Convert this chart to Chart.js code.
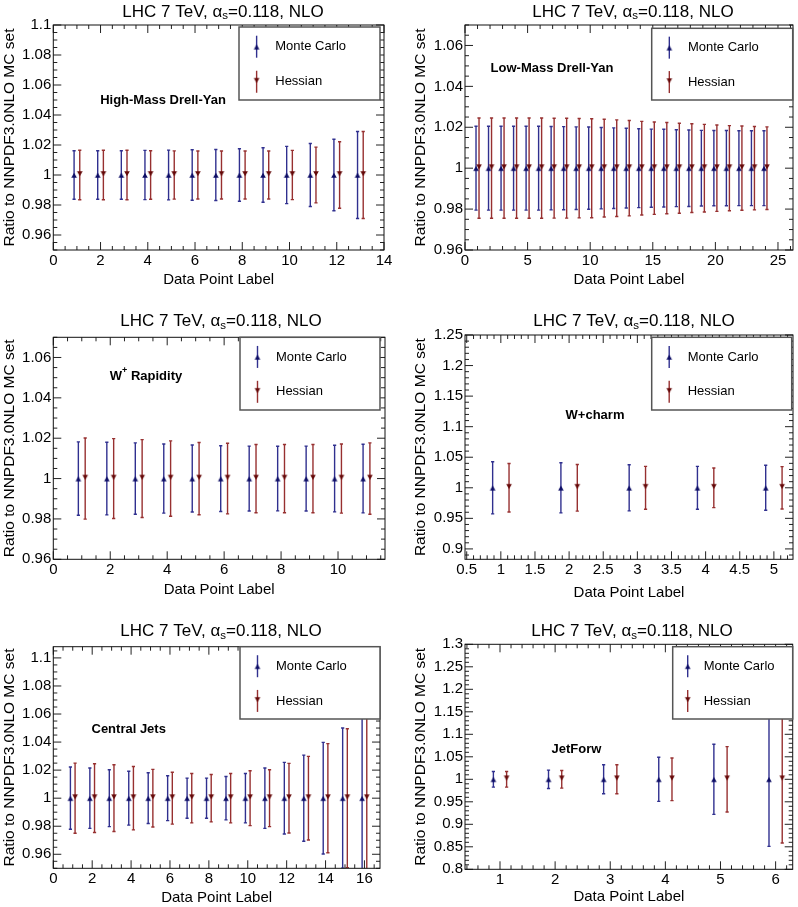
<!DOCTYPE html>
<html>
<head>
<meta charset="utf-8">
<script src="https://cdn.jsdelivr.net/npm/chart.js@4.4.0/dist/chart.umd.min.js"></script>
<style>
  body { margin: 0; background: #fff; width: 798px; height: 907px; position: relative; overflow: hidden; }
  canvas { position: absolute; }
</style>
</head>
<body>
<script>
const FONT = '"Liberation Sans", Arial, Helvetica, sans-serif';

// ---- data ----
const seriesNames = ['Monte Carlo', 'Hessian'];
const xTitle = 'Data Point Label';
const yTitle = 'Ratio to NNPDF3.0NLO MC set';

// High-Mass Drell-Yan
const hmPoints = [1, 2, 3, 4, 5, 6, 7, 8, 9, 10, 11, 12, 13];
const hmMc = [1, 1, 1, 1, 1, 1, 1, 1, 1, 1, 1, 1, 1];
const hmMcErr = [0.0162, 0.0162, 0.0162, 0.0164, 0.0166, 0.0168, 0.017, 0.0175, 0.0182, 0.0191, 0.021, 0.0238, 0.029];
const hmHess = [1, 1, 1, 1, 1, 1, 1, 1, 1, 1, 1, 1, 1];
const hmHessErr = [0.0165, 0.0165, 0.0165, 0.0162, 0.0161, 0.016, 0.016, 0.016, 0.016, 0.0164, 0.0186, 0.0222, 0.029];
const hmXTicks = [0, 2, 4, 6, 8, 10, 12, 14];
const hmYTicks = [0.96, 0.98, 1, 1.02, 1.04, 1.06, 1.08, 1.1];

// Low-Mass Drell-Yan
const lmPoints = [1, 2, 3, 4, 5, 6, 7, 8, 9, 10, 11, 12, 13, 14, 15, 16, 17, 18, 19, 20, 21, 22, 23, 24];
const lmMc = [1, 1, 1, 1, 1, 1, 1, 1, 1, 1, 1, 1, 1, 1, 1, 1, 1, 1, 1, 1, 1, 1, 1, 1];
const lmMcErr = [0.0205, 0.0205, 0.0205, 0.0205, 0.0205, 0.0205, 0.0204, 0.0203, 0.0202, 0.0201, 0.0199, 0.0197,
                 0.0195, 0.0193, 0.0191, 0.019, 0.0188, 0.0187, 0.0185, 0.0184, 0.0184, 0.0183, 0.0183, 0.0183];
const lmHess = [1, 1, 1, 1, 1, 1, 1, 1, 1, 1, 1, 1, 1, 1, 1, 1, 1, 1, 1, 1, 1, 1, 1, 1];
const lmHessErr = [0.0245, 0.0245, 0.0245, 0.0245, 0.0245, 0.0245, 0.0244, 0.0244, 0.0243, 0.0242, 0.0239, 0.0236,
                   0.0233, 0.0229, 0.0226, 0.0223, 0.022, 0.0217, 0.0214, 0.0211, 0.0208, 0.0206, 0.0204, 0.0202];
const lmXTicks = [0, 5, 10, 15, 20, 25];
const lmYTicks = [0.96, 0.98, 1, 1.02, 1.04, 1.06];

// W+ rapidity
const wpPoints = [1, 2, 3, 4, 5, 6, 7, 8, 9, 10, 11];
const wpMc = [1, 1, 1, 1, 1, 1, 1, 1, 1, 1, 1];
const wpMcErr = [0.0182, 0.018, 0.0177, 0.0171, 0.0166, 0.0163, 0.0161, 0.016, 0.0161, 0.0165, 0.017];
const wpHess = [1, 1, 1, 1, 1, 1, 1, 1, 1, 1, 1];
const wpHessErr = [0.0201, 0.0198, 0.0193, 0.0187, 0.0179, 0.0175, 0.0169, 0.0169, 0.0169, 0.0171, 0.0177];
const wpXTicks = [0, 2, 4, 6, 8, 10];
const wpYTicks = [0.96, 0.98, 1, 1.02, 1.04, 1.06];

// W+charm
const wcPoints = [1, 2, 3, 4, 5];
const wcMc = [1, 1, 1, 1, 1];
const wcMcErr = [0.0427, 0.041, 0.0378, 0.0351, 0.0368];
const wcHess = [1, 1, 1, 1, 1];
const wcHessErr = [0.0397, 0.0381, 0.0351, 0.0324, 0.0346];
const wcXTicks = [0.5, 1, 1.5, 2, 2.5, 3, 3.5, 4, 4.5, 5];
const wcYTicks = [0.9, 0.95, 1, 1.05, 1.1, 1.15, 1.2, 1.25];

// Central jets
const cjPoints = [1, 2, 3, 4, 5, 6, 7, 8, 9, 10, 11, 12, 13, 14, 15, 16];
const cjMc = [1, 1, 1, 1, 1, 1, 1, 1, 1, 1, 1, 1, 1, 1, 1, 1];
const cjMcErr = [0.0222, 0.0215, 0.0203, 0.0192, 0.0181, 0.016, 0.0143, 0.0143, 0.0155, 0.0176, 0.0215, 0.0255,
                 0.0307, 0.0398, 0.05, 0.065];
const cjHess = [1, 1, 1, 1, 1, 1, 1, 1, 1, 1, 1, 1, 1, 1, 1, 1];
const cjHessErr = [0.025, 0.0245, 0.0238, 0.0226, 0.0205, 0.0185, 0.0176, 0.0169, 0.0176, 0.0196, 0.0203, 0.0248,
                   0.0298, 0.0389, 0.0495, 0.063];
const cjXTicks = [0, 2, 4, 6, 8, 10, 12, 14, 16];
const cjYTicks = [0.96, 0.98, 1, 1.02, 1.04, 1.06, 1.08, 1.1];

// Forward jets
const jfPoints = [1, 2, 3, 4, 5, 6];
const jfMc = [1, 1, 1, 1, 1, 1];
const jfMcErr = [0.0174, 0.0204, 0.0322, 0.049, 0.078, 0.149];
const jfHess = [1, 1, 1, 1, 1, 1];
const jfHessErr = [0.0174, 0.0196, 0.0322, 0.0474, 0.0726, 0.1415];
const jfXTicks = [1, 2, 3, 4, 5, 6];
const jfYTicks = [0.8, 0.85, 0.9, 0.95, 1, 1.05, 1.1, 1.15, 1.2, 1.25, 1.3];

// ---- layout (page pixels) ----
const panels = [
  { id: 'c1', label: 'High-Mass Drell-Yan', pts: hmPoints, mc: hmMc, mcErr: hmMcErr, hs: hmHess, hsErr: hmHessErr,
    xTicks: hmXTicks, yTicks: hmYTicks, xr: [0, 14], yr: [0.95, 1.1], xMinor: 0.5, yMinor: 0.005,
    box: [0, 0, 400, 300], area: [53.3, 25, 384, 250], title: [223, 12], xTitleY: 280, yTitleX: 8.5,
    labelXY: [163, 100], legend: [239, 27, 380, 100] },
  { id: 'c2', label: 'Low-Mass Drell-Yan', pts: lmPoints, mc: lmMc, mcErr: lmMcErr, hs: lmHess, hsErr: lmHessErr,
    xTicks: lmXTicks, yTicks: lmYTicks, xr: [0, 26.2], yr: [0.96, 1.07], xMinor: 1, yMinor: 0.005,
    box: [400, 0, 398, 300], area: [465, 25, 796.7, 250], title: [633, 12], xTitleY: 280, yTitleX: 420,
    labelXY: [552, 68], legend: [651.7, 28.3, 792.7, 100] },
  { id: 'c3', label: 'W|+| Rapidity', pts: wpPoints, mc: wpMc, mcErr: wpMcErr, hs: wpHess, hsErr: wpHessErr,
    xTicks: wpXTicks, yTicks: wpYTicks, xr: [0, 11.65], yr: [0.96, 1.07], xMinor: 0.5, yMinor: 0.005,
    box: [0, 300, 400, 300], area: [53.3, 337.3, 385, 559.3], title: [221, 321.7], xTitleY: 590, yTitleX: 8.5,
    labelXY: [146, 376], legend: [240, 337.3, 380, 410] },
  { id: 'c4', label: 'W+charm', pts: wcPoints, mc: wcMc, mcErr: wcMcErr, hs: wcHess, hsErr: wcHessErr,
    xTicks: wcXTicks, yTicks: wcYTicks, xr: [0.475, 5.28], yr: [0.883, 1.25], xMinor: 0.1, yMinor: 0.01,
    box: [400, 300, 398, 300], area: [465, 335, 795, 559.3], title: [634, 321.7], xTitleY: 593, yTitleX: 420,
    labelXY: [595, 415.7], legend: [651.7, 337.3, 791.7, 410] },
  { id: 'c5', label: 'Central Jets', pts: cjPoints, mc: cjMc, mcErr: cjMcErr, hs: cjHess, hsErr: cjHessErr,
    xTicks: cjXTicks, yTicks: cjYTicks, xr: [0, 16.8], yr: [0.95, 1.108], xMinor: 0.5, yMinor: 0.005,
    box: [0, 600, 400, 307], area: [53.3, 646.7, 380, 868.3], title: [221, 631.7], xTitleY: 898, yTitleX: 8.5,
    labelXY: [128.7, 729], legend: [240, 646.7, 380, 719] },
  { id: 'c6', label: 'JetForw', pts: jfPoints, mc: jfMc, mcErr: jfMcErr, hs: jfHess, hsErr: jfHessErr,
    xTicks: jfXTicks, yTicks: jfYTicks, xr: [0.365, 6.31], yr: [0.8, 1.3], xMinor: 0.2, yMinor: 0.01,
    box: [400, 600, 398, 307], area: [465, 644.3, 792.7, 869.3], title: [632, 631.7], xTitleY: 896.7, yTitleX: 420,
    labelXY: [576.5, 749], legend: [672.7, 646.7, 792.7, 719] }
];

const MC_MARK = '#0c0c64', MC_BAR = '#30308f';
const HS_MARK = '#640808', HS_BAR = '#973030';
const X_SHIFT = 0.12;

// triangle markers, offset a little like the ROOT ones
function makeMarker(color, up) {
  const c = document.createElement('canvas');
  c.width = 10; c.height = 10;
  const g = c.getContext('2d');
  g.fillStyle = color;
  g.beginPath();
  if (up) { g.moveTo(5, 2.8); g.lineTo(7.8, 7.8); g.lineTo(2.2, 7.8); }
  else { g.moveTo(2.2, 1.2); g.lineTo(7.8, 1.2); g.lineTo(5, 6.2); }
  g.closePath();
  g.fill();
  return c;
}
const mcMarker = makeMarker(MC_MARK, true);
const hsMarker = makeMarker(HS_MARK, false);

const styles = {};

function textRuns(ctx, runs, cx, cy) {
  // runs: [text, font, dy]
  let total = 0;
  runs.forEach(r => { ctx.font = r[1]; total += ctx.measureText(r[0]).width; });
  let x = cx - total / 2;
  ctx.textAlign = 'left';
  ctx.textBaseline = 'middle';
  runs.forEach(r => {
    ctx.font = r[1];
    ctx.fillText(r[0], x, cy + r[2]);
    x += ctx.measureText(r[0]).width;
  });
}

function minorValues(min, max, step) {
  const out = [];
  for (let k = Math.ceil(min / step - 1e-6); k * step <= max + 1e-9; k++) out.push(k * step);
  return out;
}

const rootPlot = {
  id: 'rootPlot',
  beforeDatasetsDraw(chart) {
    const ctx = chart.ctx, a = chart.chartArea, ys = chart.scales.y;
    ctx.save();
    ctx.beginPath();
    ctx.rect(a.left, a.top, a.right - a.left, a.bottom - a.top);
    ctx.clip();
    chart.data.datasets.forEach((ds, i) => {
      const meta = chart.getDatasetMeta(i);
      ctx.strokeStyle = ds.barColor;
      ctx.lineWidth = 1.4;
      meta.data.forEach((pt, j) => {
        const v = ds.data[j].y, e = ds.errors[j];
        const t = ys.getPixelForValue(v + e), b = ys.getPixelForValue(v - e);
        ctx.beginPath();
        ctx.moveTo(pt.x, t); ctx.lineTo(pt.x, b);
        ctx.moveTo(pt.x - 1.6, t); ctx.lineTo(pt.x + 1.6, t);
        ctx.moveTo(pt.x - 1.6, b); ctx.lineTo(pt.x + 1.6, b);
        ctx.stroke();
      });
    });
    ctx.restore();
  },
  afterDraw(chart) {
    const st = styles[chart.canvas.id];
    const ctx = chart.ctx, a = chart.chartArea;
    const xs = chart.scales.x, ys = chart.scales.y;
    const ox = st.box[0], oy = st.box[1];
    ctx.save();

    // ticks on all four sides
    ctx.strokeStyle = '#222';
    ctx.lineWidth = 1;
    ctx.beginPath();
    const xMaj = st.xTicks, yMaj = st.yTicks;
    const isMaj = (arr, v) => arr.some(m => Math.abs(m - v) < 1e-6);
    minorValues(st.xr[0], st.xr[1], st.xMinor).forEach(v => {
      const len = isMaj(xMaj, v) ? 8 : 4, px = xs.getPixelForValue(v);
      ctx.moveTo(px, a.bottom); ctx.lineTo(px, a.bottom - len);
      ctx.moveTo(px, a.top); ctx.lineTo(px, a.top + len);
    });
    minorValues(st.yr[0], st.yr[1], st.yMinor).forEach(v => {
      const len = isMaj(yMaj, v) ? 8 : 4, py = ys.getPixelForValue(v);
      ctx.moveTo(a.left, py); ctx.lineTo(a.left + len, py);
      ctx.moveTo(a.right, py); ctx.lineTo(a.right - len, py);
    });
    ctx.stroke();
    ctx.strokeStyle = '#111';
    ctx.strokeRect(a.left, a.top, a.right - a.left, a.bottom - a.top);

    // title
    ctx.fillStyle = '#000';
    textRuns(ctx, [['LHC 7 TeV, \u03b1', '17px ' + FONT, 0], ['s', '11.5px ' + FONT, 4],
                   ['=0.118, NLO', '17px ' + FONT, 0]], st.title[0] - ox, st.title[1] - oy);

    // process label
    const parts = st.label.split('|');
    const runs = parts.length === 3
      ? [[parts[0], 'bold 13px ' + FONT, 0], [parts[1], 'bold 9px ' + FONT, -5], [parts[2], 'bold 13px ' + FONT, 0]]
      : [[st.label, 'bold 13px ' + FONT, 0]];
    textRuns(ctx, runs, st.labelXY[0] - ox, st.labelXY[1] - oy);

    // legend box
    const L = st.legend[0] - ox, T = st.legend[1] - oy, R = st.legend[2] - ox, B = st.legend[3] - oy;
    const w = R - L, h = B - T;
    ctx.fillStyle = '#fff';
    ctx.fillRect(L, T, w, h);
    ctx.strokeStyle = '#555';
    ctx.lineWidth = 1.5;
    ctx.strokeRect(L, T, w, h);
    const rows = [T + h * 0.27, T + h * 0.75];
    chart.data.datasets.forEach((ds, i) => {
      const mx = L + w * 0.125, my = rows[i];
      ctx.strokeStyle = ds.barColor;
      ctx.lineWidth = 1.4;
      ctx.beginPath();
      ctx.moveTo(mx, my - 11); ctx.lineTo(mx, my + 11);
      ctx.stroke();
      ctx.drawImage(ds.pointStyle, mx - 5, my - 5);
      ctx.fillStyle = '#000';
      ctx.font = '13px ' + FONT;
      ctx.textAlign = 'left';
      ctx.textBaseline = 'middle';
      ctx.fillText(ds.label, L + w * 0.25 + 1, my);
    });
    ctx.restore();
  }
};

panels.forEach(p => {
  styles[p.id] = p;
  const [ox, oy, W, H] = p.box;
  const cv = document.createElement('canvas');
  cv.id = p.id;
  cv.width = W; cv.height = H;
  cv.style.left = ox + 'px';
  cv.style.top = oy + 'px';
  document.body.appendChild(cv);

  const [l, t, r, b] = p.area;
  const xScaleH = p.xTitleY + 9 - b;

  new Chart(cv.getContext('2d'), {
    type: 'scatter',
    data: {
      datasets: [
        { label: seriesNames[0], data: p.pts.map((x, i) => ({ x: x - X_SHIFT, y: p.mc[i] })), errors: p.mcErr,
          barColor: MC_BAR, pointStyle: mcMarker, pointRadius: 3 },
        { label: seriesNames[1], data: p.pts.map((x, i) => ({ x: x + X_SHIFT, y: p.hs[i] })), errors: p.hsErr,
          barColor: HS_BAR, pointStyle: hsMarker, pointRadius: 3 }
      ]
    },
    options: {
      responsive: false,
      animation: false,
      events: [],
      devicePixelRatio: 1,
      layout: { padding: { left: 0, top: t - oy, right: ox + W - r, bottom: oy + H - (p.xTitleY + 9) } },
      plugins: { legend: { display: false }, tooltip: { enabled: false } },
      scales: {
        x: {
          type: 'linear', min: p.xr[0], max: p.xr[1],
          grid: { display: false, drawTicks: false }, border: { display: false },
          afterBuildTicks: s => { s.ticks = p.xTicks.map(v => ({ value: v })); },
          afterFit: s => { s.height = xScaleH; },
          ticks: { autoSkip: false, maxRotation: 0, padding: 2, color: '#000', font: { family: FONT, size: 15 },
                   callback: v => String(parseFloat(v.toFixed(3))) },
          title: { display: true, text: xTitle, color: '#000', padding: 0, font: { family: FONT, size: 15 } }
        },
        y: {
          type: 'linear', min: p.yr[0], max: p.yr[1],
          grid: { display: false, drawTicks: false }, border: { display: false },
          afterBuildTicks: s => { s.ticks = p.yTicks.map(v => ({ value: v })); },
          afterFit: s => { s.width = l - ox; },
          ticks: { autoSkip: false, padding: 2, color: '#000', font: { family: FONT, size: 15 },
                   callback: v => String(parseFloat(v.toFixed(3))) },
          title: { display: true, text: yTitle, color: '#000', padding: { top: Math.max(0, p.yTitleX - ox - 9), bottom: 0 },
                   font: { family: FONT, size: 15.5 } }
        }
      }
    },
    plugins: [rootPlot]
  });
});
</script>
</body>
</html>
